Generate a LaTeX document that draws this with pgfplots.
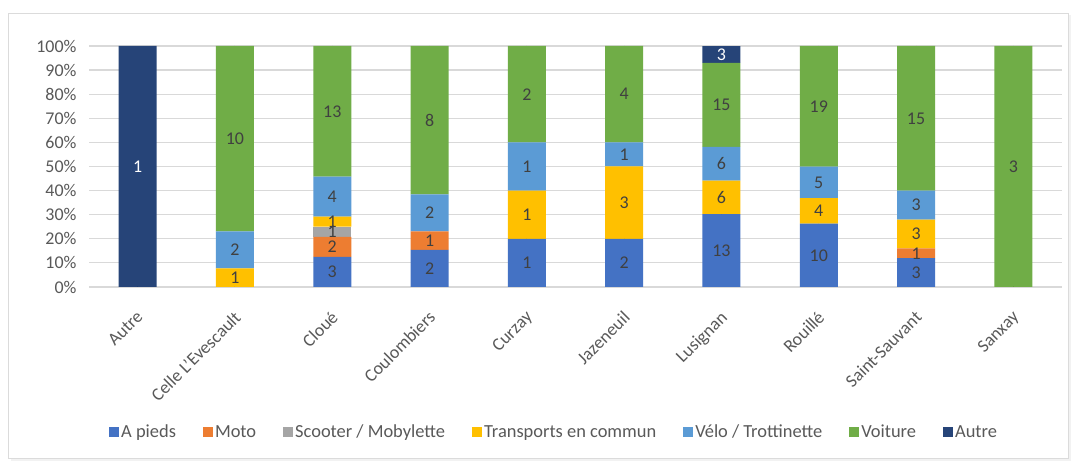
\documentclass[border=0pt]{standalone}
\usepackage{pgfplots}
\pgfplotsset{compat=1.18}
\usepackage{pgfplotstable}
\usepackage{fontspec}
\setmainfont{Carlito}
\definecolor{cPied}{HTML}{4472C4}
\definecolor{cMoto}{HTML}{ED7D31}
\definecolor{cScoot}{HTML}{A5A5A5}
\definecolor{cTrans}{HTML}{FFC000}
\definecolor{cVelo}{HTML}{5B9BD5}
\definecolor{cVoit}{HTML}{70AD47}
\definecolor{cAutre}{HTML}{264478}
\definecolor{cGrid}{HTML}{D9D9D9}
\definecolor{cTick}{HTML}{595959}
\definecolor{cLab}{HTML}{404040}
\pgfplotstableread{
idx apieds moto scooter transp velo voiture autre total
0 0 0 0 0 0 0 1 1
1 0 0 0 1 2 10 0 13
2 3 2 1 1 4 13 0 24
3 2 1 0 0 2 8 0 13
4 1 0 0 1 1 2 0 5
5 2 0 0 3 1 4 0 10
6 13 0 0 6 6 15 3 43
7 10 0 0 4 5 19 0 38
8 3 1 0 3 3 15 0 25
9 0 0 0 0 0 3 0 3
}\datatable
\pgfplotsset{
  geom/.style={at={(89bp,177bp)}, anchor=south west,
    scale only axis, width=973bp, height=241bp,
    xmin=-0.5, xmax=9.5, ymin=0, ymax=100,
    /pgf/number format/assume math mode=true},
  lbl/.style={only marks, mark=*, mark size=0pt, point meta=explicit,
    nodes near coords={\pgfmathfloatifflags{\pgfplotspointmeta}{0}{}{\pgfmathprintnumber{\pgfplotspointmeta}}},
    every node near coord/.append style={font=\fontsize{18}{21}\selectfont, text=cLab, anchor=center, inner sep=0pt}},
}
\begin{document}
\begin{tikzpicture}
\path (0bp,0bp) rectangle (1078bp,464bp);
\fill[black!5] (11bp,3bp) rectangle (1071bp,449bp);
\fill[white,draw=black!14,line width=0.8bp] (8bp,6bp) rectangle (1068bp,451bp);
\begin{axis}[
  geom,
  ybar stacked, bar width=38bp,
  xtick=data,
  xticklabels={Autre,Celle L'Evescault,Cloué,Coulombiers,Curzay,Jazeneuil,Lusignan,Rouillé,Saint-Sauvant,Sanxay},
  ytick={0,10,...,100},
  yticklabel={\pgfmathprintnumber{\tick}\%},
  ymajorgrids, major grid style={cGrid, line width=1.2bp},
  axis line style={draw=none},
  major tick length=0pt,
  tick label style={font=\fontsize{18}{21}\selectfont, text=cTick},
  yticklabel style={xshift=-9bp},
  xticklabel style={xshift=-2bp, yshift=-18bp, rotate=45, anchor=north east},
  legend style={at={(0.478,0)}, anchor=center, yshift=-145bp, draw=none,
    font=\fontsize{18.5}{21}\selectfont, text=cTick, legend columns=7,
    /tikz/every even column/.append style={column sep=25bp}},
  legend image code/.code={\fill[#1] (0bp,-5bp) rectangle (10bp,5bp);},
]
\addplot[fill=cPied, draw=none] table[x=idx, y expr=\thisrow{apieds}/\thisrow{total}*100]{\datatable};
\addlegendentry{A pieds}
\addplot[fill=cMoto, draw=none] table[x=idx, y expr=\thisrow{moto}/\thisrow{total}*100]{\datatable};
\addlegendentry{Moto}
\addplot[fill=cScoot, draw=none] table[x=idx, y expr=\thisrow{scooter}/\thisrow{total}*100]{\datatable};
\addlegendentry{Scooter / Mobylette}
\addplot[fill=cTrans, draw=none] table[x=idx, y expr=\thisrow{transp}/\thisrow{total}*100]{\datatable};
\addlegendentry{Transports en commun}
\addplot[fill=cVelo, draw=none] table[x=idx, y expr=\thisrow{velo}/\thisrow{total}*100]{\datatable};
\addlegendentry{Vélo / Trottinette}
\addplot[fill=cVoit, draw=none] table[x=idx, y expr=\thisrow{voiture}/\thisrow{total}*100]{\datatable};
\addlegendentry{Voiture}
\addplot[fill=cAutre, draw=none] table[x=idx, y expr=\thisrow{autre}/\thisrow{total}*100]{\datatable};
\addlegendentry{Autre}
\end{axis}
\begin{axis}[geom, hide axis]
\addplot[lbl] table[x=idx, meta=apieds, y expr={(\thisrow{apieds}/2)/\thisrow{total}*100}]{\datatable};
\addplot[lbl] table[x=idx, meta=moto, y expr={(\thisrow{apieds}+\thisrow{moto}/2)/\thisrow{total}*100}]{\datatable};
\addplot[lbl] table[x=idx, meta=scooter, y expr={(\thisrow{apieds}+\thisrow{moto}+\thisrow{scooter}/2)/\thisrow{total}*100}]{\datatable};
\addplot[lbl] table[x=idx, meta=transp, y expr={(\thisrow{apieds}+\thisrow{moto}+\thisrow{scooter}+\thisrow{transp}/2)/\thisrow{total}*100}]{\datatable};
\addplot[lbl] table[x=idx, meta=velo, y expr={(\thisrow{apieds}+\thisrow{moto}+\thisrow{scooter}+\thisrow{transp}+\thisrow{velo}/2)/\thisrow{total}*100}]{\datatable};
\addplot[lbl] table[x=idx, meta=voiture, y expr={(\thisrow{apieds}+\thisrow{moto}+\thisrow{scooter}+\thisrow{transp}+\thisrow{velo}+\thisrow{voiture}/2)/\thisrow{total}*100}]{\datatable};
\addplot[lbl, every node near coord/.append style={text=white}] table[x=idx, meta=autre, y expr={(\thisrow{total}-\thisrow{autre}/2)/\thisrow{total}*100}]{\datatable};
\end{axis}
\end{tikzpicture}
\end{document}
